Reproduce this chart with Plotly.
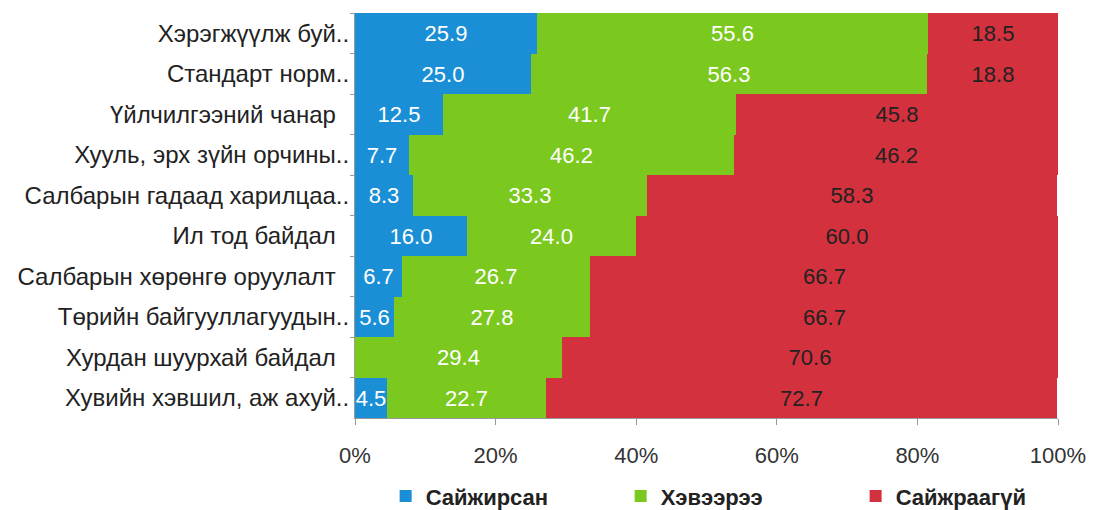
import plotly.graph_objects as go

categories = [
    "Хэрэгжүүлж буй..",
    "Стандарт норм..",
    "Үйлчилгээний чанар\u00a0\u00a0",
    "Хууль, эрх зүйн орчины..",
    "Салбарын гадаад харилцаа..",
    "Ил тод байдал\u00a0\u00a0",
    "Салбарын хөрөнгө оруулалт\u00a0\u00a0",
    "Төрийн байгууллагуудын..",
    "Хурдан шуурхай байдал\u00a0\u00a0",
    "Хувийн хэвшил, аж ахуй..",
]
improved = [25.9, 25.0, 12.5, 7.7, 8.3, 16.0, 6.7, 5.6, 0.0, 4.5]
same = [55.6, 56.3, 41.7, 46.2, 33.3, 24.0, 26.7, 27.8, 29.4, 22.7]
not_improved = [18.5, 18.8, 45.8, 46.2, 58.3, 60.0, 66.7, 66.7, 70.6, 72.7]
series_names = ["Сайжирсан", "Хэвээрээ", "Сайжраагүй"]
x_ticks = [0, 20, 40, 60, 80, 100]

colors = ["#1b8fd6", "#7bc81f", "#d3313d"]
text_colors = ["white", "white", "#222222"]
FONT = "Liberation Sans, Arial, sans-serif"

fig = go.Figure()
for name, vals, c, tc in zip(series_names, [improved, same, not_improved], colors, text_colors):
    fig.add_trace(go.Bar(
        y=categories, x=vals, name=f"<b>{name}</b>", orientation="h",
        marker=dict(color=c, line=dict(width=0)),
        text=[f"{v:.1f}" for v in vals], textposition="inside",
        insidetextanchor="middle", textangle=0,
        textfont=dict(color=tc, size=22, family=FONT),
        constraintext="none",
    ))

fig.update_layout(
    barmode="stack", bargap=0,
    width=1095, height=510,
    margin=dict(l=355, r=37, t=13, b=92, autoexpand=False),
    plot_bgcolor="white", paper_bgcolor="white",
    font=dict(family=FONT, size=22, color="#222222"),
    uniformtext=dict(mode="show", minsize=10),
    legend=dict(orientation="h", x=0.545, xanchor="center",
                yref="container", y=0.027, yanchor="middle",
                font=dict(size=22, color="#222222", family=FONT),
                entrywidth=190, itemsizing="constant", traceorder="normal"),
)
fig.update_xaxes(range=[0, 100], tickvals=x_ticks, ticktext=[f"{t}%" for t in x_ticks],
                 showgrid=False, showline=True, linecolor="#999999", ticks="outside",
                 ticklen=6, tickcolor="#999999", zeroline=False, automargin=False,
                 ticklabelstandoff=12, tickfont=dict(size=22, color="#333333"))
fig.update_yaxes(autorange="reversed", showline=True, linecolor="#999999", ticks="outside",
                 tickson="boundaries", automargin=False,
                 ticklen=4, tickcolor="#999999", showgrid=False,
                 tickfont=dict(size=24, color="#222222"))

fig.write_html("out.html", config={"displayModeBar": False},
               post_script="document.body.style.margin='0';document.body.style.overflow='hidden';")
